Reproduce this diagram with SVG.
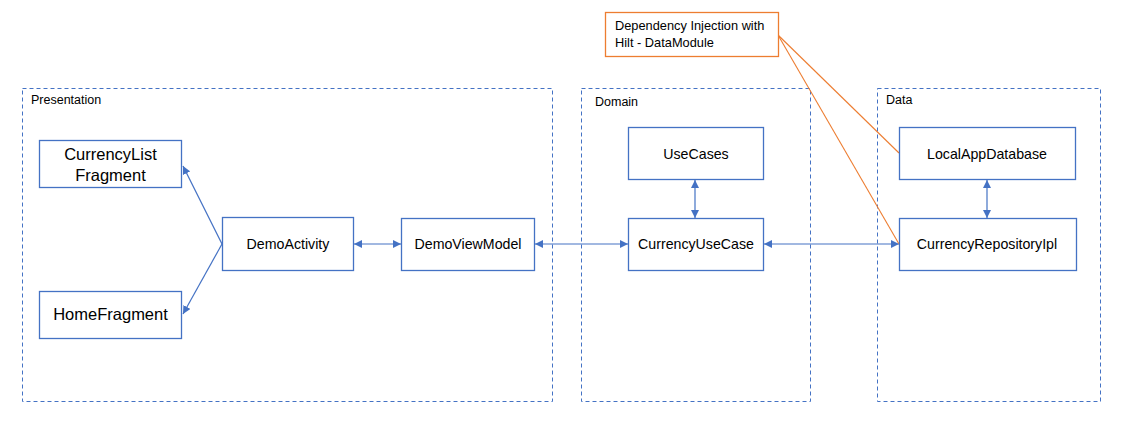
<svg xmlns="http://www.w3.org/2000/svg" width="1127" height="423" viewBox="0 0 1127 423">
<style>
.cont{fill:none;stroke:#4472C4;stroke-width:1;stroke-dasharray:4,3}
.box{fill:#fff;stroke:#4472C4;stroke-width:1.3}
.obox{fill:#fff;stroke:#ED7D31;stroke-width:1.3}
.lbl{font-family:"Liberation Sans",Arial,sans-serif;font-size:12.5px;fill:#000}
.t{font-family:"Liberation Sans",Arial,sans-serif;font-size:14.2px;fill:#000;text-anchor:middle}
.tb{font-family:"Liberation Sans",Arial,sans-serif;font-size:16.5px;fill:#000;text-anchor:middle}
.ot{font-family:"Liberation Sans",Arial,sans-serif;font-size:12.8px;fill:#000}
.c{fill:none;stroke:#4472C4;stroke-width:1.2}
.oc{fill:none;stroke:#ED7D31;stroke-width:1.1}
</style>
<defs>
<marker id="ah" viewBox="0 0 10 10" refX="10" refY="5" markerWidth="8" markerHeight="8" markerUnits="userSpaceOnUse" orient="auto-start-reverse">
<path d="M0,0 L10,5 L0,10 z" fill="#4472C4"/>
</marker>
</defs>
<rect width="1127" height="423" fill="#fff"/>
<g id="presentation">
<rect class="cont" x="22.5" y="88.5" width="530" height="313"/>
<text class="lbl" x="31" y="104">Presentation</text>
</g>
<g id="domain">
<rect class="cont" x="581.5" y="88.5" width="229" height="313"/>
<text class="lbl" x="595" y="106">Domain</text>
</g>
<g id="data">
<rect class="cont" x="877.5" y="88.5" width="223" height="313"/>
<text class="lbl" x="886" y="104">Data</text>
</g>
<g id="connectors">
<line class="c" x1="222" y1="244" x2="183" y2="166" marker-end="url(#ah)"/>
<line class="c" x1="222" y1="244" x2="183" y2="314" marker-end="url(#ah)"/>
<line class="c" x1="354" y1="244" x2="401" y2="244" marker-start="url(#ah)" marker-end="url(#ah)"/>
<line class="c" x1="535" y1="244" x2="628" y2="244" marker-start="url(#ah)" marker-end="url(#ah)"/>
<line class="c" x1="695" y1="180" x2="695" y2="218" marker-start="url(#ah)" marker-end="url(#ah)"/>
<line class="c" x1="764" y1="244" x2="899" y2="244" marker-start="url(#ah)" marker-end="url(#ah)"/>
<line class="c" x1="987" y1="180" x2="987" y2="218" marker-start="url(#ah)" marker-end="url(#ah)"/>
<line class="oc" x1="778" y1="35" x2="899" y2="153"/>
<line class="oc" x1="778" y1="35" x2="899" y2="244"/>
</g>
<g id="currencyListFragment">
<rect class="box" x="39.5" y="140.5" width="142" height="47"/>
<text class="tb" x="110.5" y="160">CurrencyList</text>
<text class="tb" x="110.5" y="181">Fragment</text>
</g>
<g id="homeFragment">
<rect class="box" x="39.5" y="291.5" width="142" height="47"/>
<text class="tb" x="110.5" y="320">HomeFragment</text>
</g>
<g id="demoActivity">
<rect class="box" x="222.5" y="217.5" width="131" height="53"/>
<text class="t" x="288" y="249">DemoActivity</text>
</g>
<g id="demoViewModel">
<rect class="box" x="401.5" y="218.5" width="133" height="52"/>
<text class="t" x="468" y="249">DemoViewModel</text>
</g>
<g id="useCases">
<rect class="box" x="628.5" y="127.5" width="135" height="52"/>
<text class="t" x="696" y="159">UseCases</text>
</g>
<g id="currencyUseCase">
<rect class="box" x="628.5" y="218.5" width="135" height="52"/>
<text class="t" x="696" y="249">CurrencyUseCase</text>
</g>
<g id="localAppDatabase">
<rect class="box" x="899.5" y="127.5" width="176" height="52"/>
<text class="t" x="987" y="159">LocalAppDatabase</text>
</g>
<g id="currencyRepositoryIpl">
<rect class="box" x="899.5" y="218.5" width="177" height="52"/>
<text class="t" x="987" y="249">CurrencyRepositoryIpl</text>
</g>
<g id="diDataModule">
<rect class="obox" x="605.5" y="12.5" width="173" height="44"/>
<text class="ot" x="615" y="30">Dependency Injection with</text>
<text class="ot" x="615" y="47">Hilt - DataModule</text>
</g>
</svg>
